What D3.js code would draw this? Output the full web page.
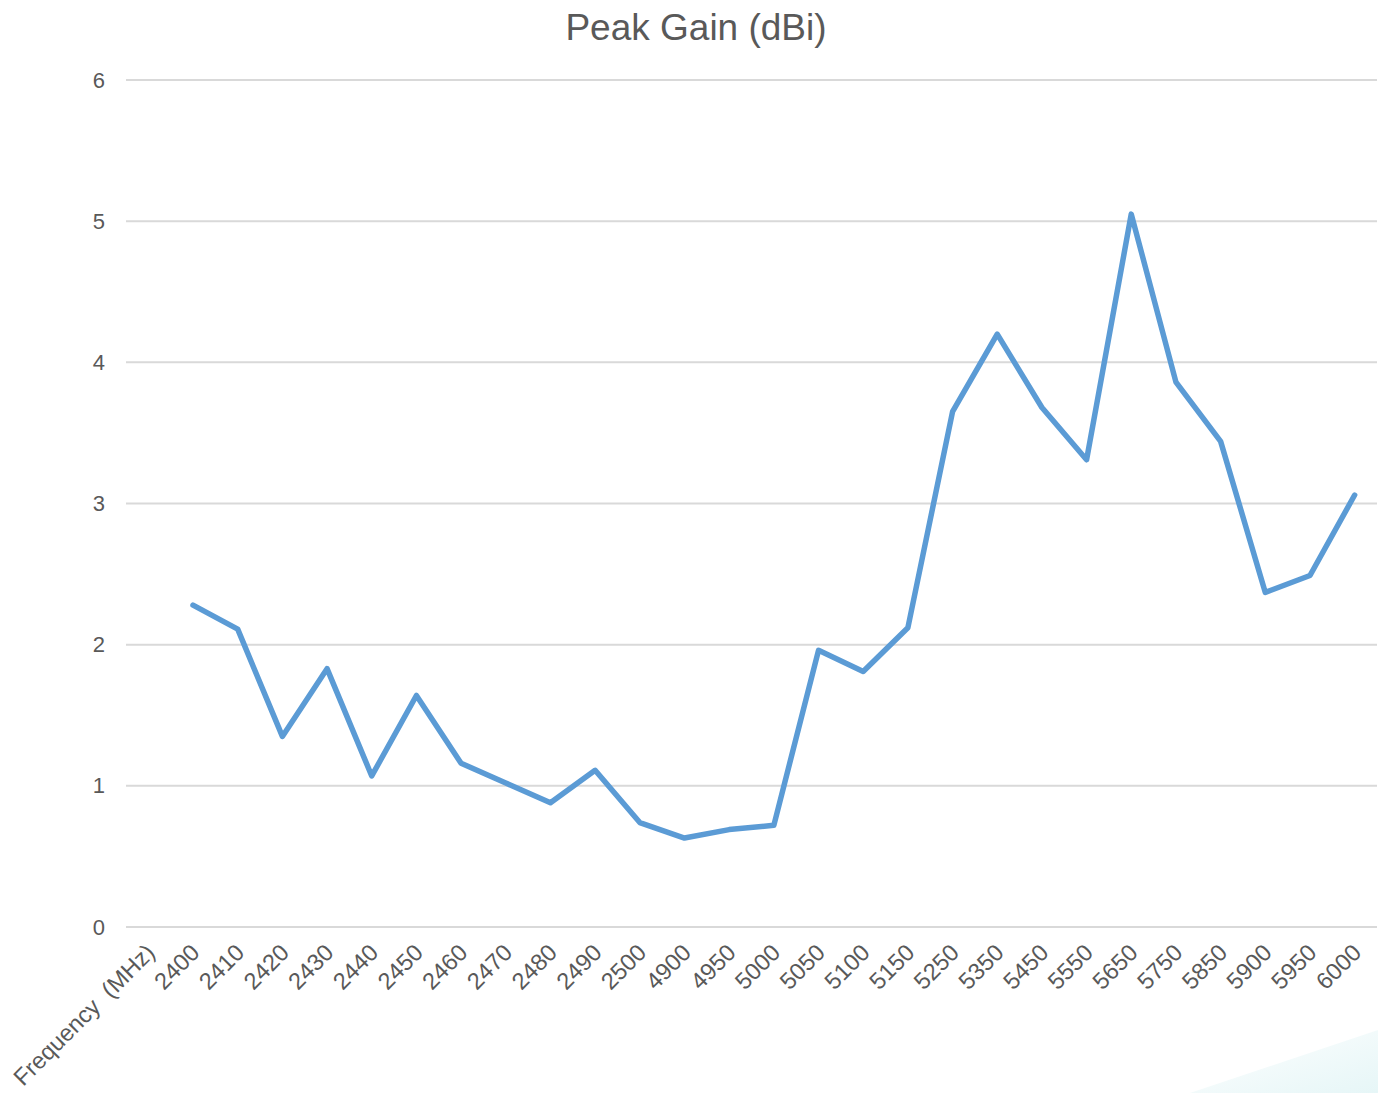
<!DOCTYPE html>
<html>
<head>
<meta charset="utf-8">
<script src="https://cdn.jsdelivr.net/npm/d3@7"></script>
<style>
  body { margin: 0; background: #fff; }
  text { font-family: "Liberation Sans", Arial, sans-serif; fill: #595959; }
</style>
</head>
<body>
<div id="chart"></div>
<script>
'use strict';

var categories = [ 'Frequency  (MHz)', '2400', '2410', '2420', '2430', '2440', '2450',
  '2460', '2470', '2480', '2490', '2500', '4900', '4950', '5000', '5050', '5100',
  '5150', '5250', '5350', '5450', '5550', '5650', '5750', '5850', '5900', '5950', '6000' ];

var gainValues = [ null, 2.28, 2.11, 1.35, 1.83, 1.07, 1.64, 1.16, 1.02, 0.88, 1.11,
  0.74, 0.63, 0.69, 0.72, 1.96, 1.81, 2.12, 3.65, 4.20, 3.68, 3.31, 5.05, 3.86,
  3.44, 2.37, 2.49, 3.06 ];

var yTicks = [ 0, 1, 2, 3, 4, 5, 6 ];

var baseWidth = 1378,
    baseHeight = 1093,
    margin = { top: 80, right: 1, bottom: 166, left: 126 };

var width = baseWidth - margin.left - margin.right,
    height = baseHeight - margin.top - margin.bottom;

var svg = d3.select( '#chart' )
  .append( 'svg' )
    .attr( 'width', baseWidth )
    .attr( 'height', baseHeight );

// faint corner decoration
var defs = svg.append( 'defs' );
var grad = defs.append( 'linearGradient' )
    .attr( 'id', 'corner' )
    .attr( 'x1', '0' ).attr( 'y1', '0' )
    .attr( 'x2', '1' ).attr( 'y2', '1' );
grad.append( 'stop' ).attr( 'offset', '0%' ).attr( 'stop-color', '#ffffff' );
grad.append( 'stop' ).attr( 'offset', '100%' ).attr( 'stop-color', '#e6f6f7' );
svg.append( 'path' )
    .attr( 'd', 'M1190,1093 L1378,1030 L1378,1093 Z' )
    .attr( 'fill', 'url(#corner)' );

var g = svg.append( 'g' )
    .attr( 'transform', 'translate(' + margin.left + ',' + margin.top + ')' );

var x = d3.scaleBand()
    .domain( categories )
    .range( [ 0, width ] );

var y = d3.scaleLinear()
    .domain( [ 0, 6 ] )
    .range( [ height, 0 ] );

// gridlines
g.append( 'g' )
    .selectAll( 'line' )
    .data( yTicks )
  .enter().append( 'line' )
    .attr( 'x1', 0 )
    .attr( 'x2', width )
    .attr( 'y1', function( d ) { return y( d ); } )
    .attr( 'y2', function( d ) { return y( d ); } )
    .style( 'stroke', '#d9d9d9' )
    .attr( 'stroke-width', 2 );

// y axis labels
var yAxis = g.append( 'g' )
    .attr( 'class', 'y axis' )
    .call( d3.axisLeft( y ).tickValues( yTicks ).tickFormat( d3.format( 'd' ) )
      .tickSize( 0 ).tickPadding( 21 ) );
yAxis.select( '.domain' ).remove();
yAxis.selectAll( 'text' )
    .style( 'font-size', '22px' )
    .style( 'fill', '#595959' );

// x axis labels
var xAxis = g.append( 'g' )
    .attr( 'class', 'x axis' )
    .attr( 'transform', 'translate(0,' + height + ')' )
    .call( d3.axisBottom( x ).tickSize( 0 ).tickPadding( 0 ) );
xAxis.select( '.domain' ).remove();
xAxis.selectAll( 'text' )
    .attr( 'dy', null )
    .attr( 'y', 0 )
    .attr( 'transform', 'translate(8,27) rotate(-45)' )
    .style( 'text-anchor', 'end' )
    .style( 'white-space', 'pre' )
    .style( 'font-size', '23.5px' )
    .style( 'fill', '#595959' );

// line
var line = d3.line()
    .defined( function( d ) { return d != null; } )
    .x( function( d, i ) { return x( categories[ i ] ) + x.bandwidth() / 2; } )
    .y( function( d ) { return y( d ); } );

g.append( 'path' )
    .datum( gainValues )
    .attr( 'd', line )
    .attr( 'fill', 'none' )
    .style( 'stroke', '#5b9bd5' )
    .attr( 'stroke-width', 5.5 )
    .attr( 'stroke-linejoin', 'round' )
    .attr( 'stroke-linecap', 'round' );

// title
svg.append( 'text' )
    .attr( 'x', 696 )
    .attr( 'y', 40 )
    .attr( 'text-anchor', 'middle' )
    .style( 'font-size', '37px' )
    .style( 'fill', '#595959' )
    .text( 'Peak Gain (dBi)' );
</script>
</body>
</html>
